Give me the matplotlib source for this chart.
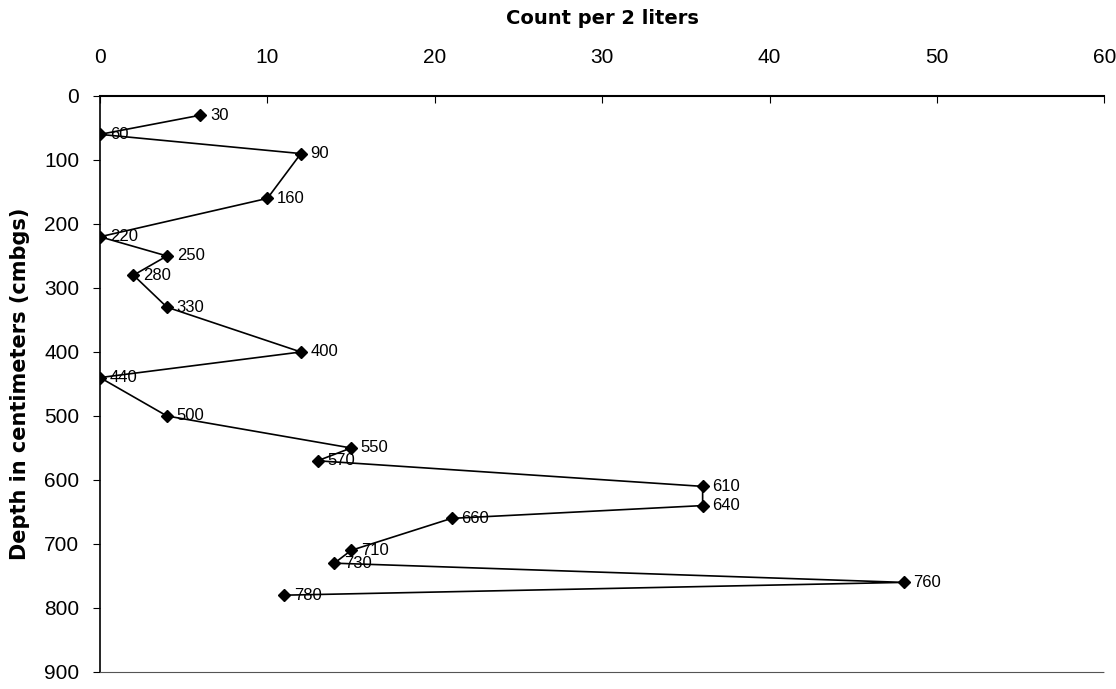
import matplotlib.pyplot as plt

# --- DATA ---
depth_cm = [30, 60, 90, 160, 220, 250, 280, 330, 400, 440,
            500, 550, 570, 610, 640, 660, 710, 730, 760, 780]
count_per_2l = [6, 0, 12, 10, 0, 4, 2, 4, 12, 0,
                4, 15, 13, 36, 36, 21, 15, 14, 48, 11]
x_ticks = [0, 10, 20, 30, 40, 50, 60]
y_ticks = [0, 100, 200, 300, 400, 500, 600, 700, 800, 900]

plt.rcParams['font.family'] = ['Liberation Sans', 'DejaVu Sans']

fig = plt.figure(figsize=(11.16, 6.89), dpi=100)
ax = fig.add_axes([0.0896, 0.0247, 0.9, 0.836])

ax.plot(count_per_2l, depth_cm, color='black', linewidth=1.2,
        marker='D', markersize=6, markerfacecolor='black', markeredgecolor='black')

for x, y in zip(count_per_2l, depth_cm):
    ax.annotate(str(y), (x, y), xytext=(7, 0), textcoords='offset points',
                va='center', ha='left', fontsize=12)

ax.set_xlim(0, 60)
ax.set_ylim(900, 0)
ax.set_xticks(x_ticks)
ax.set_yticks(y_ticks)

ax.xaxis.tick_top()
ax.xaxis.set_label_position('top')
ax.tick_params(axis='x', direction='in', length=5, pad=21, labelsize=15)
ax.tick_params(axis='y', direction='out', length=5, pad=10, labelsize=15)

ax.spines['right'].set_visible(False)
ax.spines['bottom'].set_linestyle((0, (1, 1)))
ax.spines['bottom'].set_color('#555555')
ax.spines['top'].set_linewidth(1.5)
ax.spines['left'].set_linewidth(1.2)

ax.set_xlabel('Count per 2 liters', fontsize=14, fontweight='bold',
              family='DejaVu Sans', labelpad=17)
ax.set_ylabel('Depth in centimeters (cmbgs)', fontsize=15, fontweight='bold',
              family='DejaVu Sans', labelpad=10)

fig.savefig('out.png', dpi=100)
